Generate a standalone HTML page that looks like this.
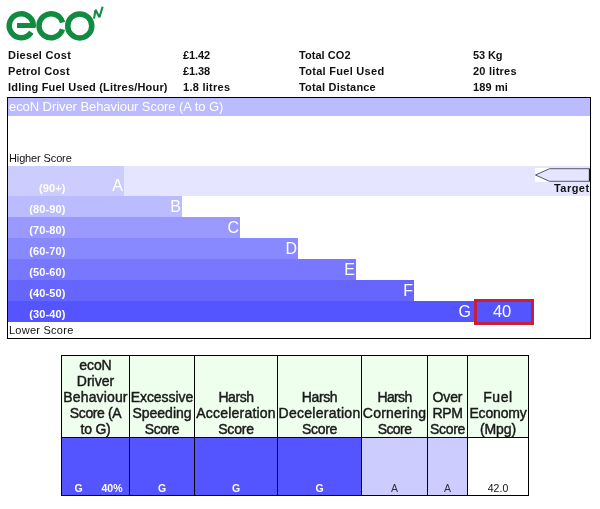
<!DOCTYPE html>
<html>
<head>
<meta charset="utf-8">
<title>ecoN Driver Behaviour Score</title>
<style>
html,body{margin:0;padding:0;background:#fff;}
body{width:600px;height:509px;position:relative;overflow:hidden;font-family:"Liberation Sans",sans-serif;color:#111;}
.abs{position:absolute;white-space:nowrap;}
.lbl{position:absolute;font-weight:bold;font-size:11px;line-height:16px;height:16px;white-space:nowrap;color:#111;}
#box{position:absolute;left:7px;top:97px;width:582px;height:240px;border:1px solid #000;background:#fff;}
#band{position:absolute;left:8px;top:98px;width:582px;height:18px;background:#bbbbff;}
#bandt{position:absolute;left:9px;top:98px;font-size:13px;letter-spacing:-0.07px;line-height:17px;color:#fff;white-space:nowrap;}
.bar{position:absolute;left:8px;height:21px;}
.rng{position:absolute;width:57.5px;left:8px;letter-spacing:0.1px;text-align:right;font-weight:bold;font-size:11px;color:#fff;line-height:14px;white-space:nowrap;}
.let{position:absolute;font-size:16px;line-height:18px;color:#fff;text-align:right;width:30px;white-space:nowrap;}
.sm{position:absolute;font-size:11px;line-height:14px;color:#111;white-space:nowrap;}
#tbl{position:absolute;left:61px;top:355px;width:468px;height:141px;background:#000;}
.hc{position:absolute;top:356px;height:81px;background:#eeffee;}
.hc div{position:absolute;left:-10px;right:-10px;bottom:0px;text-align:center;font-size:14px;line-height:16px;color:#1a1a1a;-webkit-text-stroke:0.45px #1a1a1a;}
.dc{position:absolute;top:438px;height:57px;}
.dc span{position:absolute;bottom:1px;font-size:10.5px;line-height:12px;text-align:center;white-space:nowrap;}
.g{background:#5555ff;color:#fff;font-weight:bold;}
.a{background:#ccccff;color:#333;}
.w{background:#fff;color:#111;}
</style>
</head>
<body>
<div id="wrap" style="position:absolute;left:0;top:0;width:600px;height:509px;will-change:transform;-webkit-font-smoothing:antialiased">

<!-- logo -->
<svg class="abs" style="left:0;top:0" width="120" height="50" viewBox="0 0 120 50">
  <g fill="none" stroke="#108b3f" stroke-width="5.5">
    <path d="M33.13 27.42 A12 12 0 1 0 31.31 32.29"/>
    <path d="M62.54 22.44 A12 12 0 1 0 62.48 29.26"/>
    <circle cx="79.75" cy="25.9" r="12"/>
  </g>
  <rect x="17" y="23" width="18" height="5" fill="#108b3f"/>
  <path d="M94.2 17.6 L95.5 9.8 L99.4 17.2 L102.3 7.8" fill="none" stroke="#108b3f" stroke-width="2.1" stroke-linejoin="bevel" stroke-linecap="square"/>
</svg>

<!-- info rows -->
<div class="lbl" style="left:8px;top:47px;letter-spacing:0.3px">Diesel Cost</div>
<div class="lbl" style="left:8px;top:63px;letter-spacing:0.3px">Petrol Cost</div>
<div class="lbl" style="left:8px;top:79px;letter-spacing:0.19px">Idling Fuel Used (Litres/Hour)</div>
<div class="lbl" style="left:183px;top:47px;letter-spacing:-0.12px">£1.42</div>
<div class="lbl" style="left:183px;top:63px;letter-spacing:-0.12px">£1.38</div>
<div class="lbl" style="left:183px;top:79px;letter-spacing:0.27px">1.8 litres</div>
<div class="lbl" style="left:299px;top:47px;letter-spacing:0.05px">Total CO2</div>
<div class="lbl" style="left:299px;top:63px;letter-spacing:0.29px">Total Fuel Used</div>
<div class="lbl" style="left:299px;top:79px;letter-spacing:0.18px">Total Distance</div>
<div class="lbl" style="left:473px;top:47px;letter-spacing:-0.1px">53 Kg</div>
<div class="lbl" style="left:473px;top:63px;letter-spacing:0.25px">20 litres</div>
<div class="lbl" style="left:473px;top:79px;letter-spacing:0.12px">189 mi</div>

<!-- chart box -->
<div id="box"></div>
<div id="band"></div>
<div id="bandt">ecoN Driver Behaviour Score (A to G)</div>
<div class="sm" style="left:9px;top:151px;letter-spacing:-0.13px">Higher Score</div>
<div class="sm" style="left:9px;top:323px;letter-spacing:0.25px">Lower Score</div>

<!-- target band -->
<div class="bar" style="top:166px;height:30px;width:582px;background:#e5e5ff"></div>
<!-- bars -->
<div class="bar" style="top:166px;height:30px;width:116px;background:#ccccff"></div>
<div class="bar" style="top:196px;width:174px;background:#bbbbff"></div>
<div class="bar" style="top:217px;width:232px;background:#9999ff"></div>
<div class="bar" style="top:238px;width:290px;background:#8888ff"></div>
<div class="bar" style="top:259px;width:348px;background:#7777ff"></div>
<div class="bar" style="top:280px;width:406px;background:#6666ff"></div>
<div class="bar" style="top:301px;width:466px;background:#5555ff"></div>

<div class="rng" style="top:181px">(90+)</div>
<div class="rng" style="top:202px">(80-90)</div>
<div class="rng" style="top:223px">(70-80)</div>
<div class="rng" style="top:244px">(60-70)</div>
<div class="rng" style="top:265px">(50-60)</div>
<div class="rng" style="top:286px">(40-50)</div>
<div class="rng" style="top:307px">(30-40)</div>

<div class="let" style="left:93px;top:177px">A</div>
<div class="let" style="left:151px;top:198px">B</div>
<div class="let" style="left:209px;top:219px">C</div>
<div class="let" style="left:267px;top:240px">D</div>
<div class="let" style="left:325px;top:261px">E</div>
<div class="let" style="left:383px;top:282px">F</div>
<div class="let" style="left:441px;top:303px">G</div>

<!-- score box -->
<div class="abs" style="left:474px;top:299px;width:54px;height:19.5px;border:3px solid #c81e3c;background:#5555ff;color:#fff;font-size:16.5px;line-height:18px;letter-spacing:-0.2px;text-align:center;text-indent:-4px">40</div>

<!-- target arrow -->
<svg class="abs" style="left:535px;top:168px" width="55" height="14" viewBox="0 0 55 14">
  <rect x="0" y="0" width="55" height="14" fill="#fff"/>
  <path d="M0.5 7 L14.5 0.7 H54.3 V13.3 H14.5 Z" fill="#e5e5ff" stroke="#55556e" stroke-width="1"/>
  <rect x="54" y="0.6" width="1" height="12.8" fill="#222"/>
</svg>
<div class="lbl" style="left:554px;top:180px;letter-spacing:0.45px">Target</div>

<!-- table -->
<div id="tbl"></div>
<div class="hc" style="left:62px;width:67px"><div><span style="letter-spacing:-0.1px">ecoN</span><br>Driver<br><span style="letter-spacing:0.14px">Behaviour</span><br><span style="letter-spacing:-0.39px">Score (A</span><br><span style="letter-spacing:-0.22px">to G)</span></div></div>
<div class="hc" style="left:130px;width:64px"><div><span style="letter-spacing:-0.04px">Excessive</span><br>Speeding<br><span style="letter-spacing:-0.42px">Score</span></div></div>
<div class="hc" style="left:195px;width:82px"><div><span style="letter-spacing:-0.42px">Harsh</span><br><span style="letter-spacing:0.22px">Acceleration</span><br><span style="letter-spacing:-0.2px">Score</span></div></div>
<div class="hc" style="left:278px;width:83px"><div><span style="letter-spacing:-0.35px">Harsh</span><br><span style="letter-spacing:0.28px">Deceleration</span><br><span style="letter-spacing:-0.27px">Score</span></div></div>
<div class="hc" style="left:362px;width:65px"><div><span style="letter-spacing:-0.65px">Harsh</span><br><span style="letter-spacing:0.21px">Cornering</span><br><span style="letter-spacing:-0.57px">Score</span></div></div>
<div class="hc" style="left:428px;width:39px"><div><span style="letter-spacing:-0.13px">Over</span><br><span style="letter-spacing:-0.35px">RPM</span><br><span style="letter-spacing:-0.35px">Score</span></div></div>
<div class="hc" style="left:468px;width:60px"><div><span style="letter-spacing:0.57px">Fuel</span><br><span style="letter-spacing:-0.17px">Economy</span><br><span style="letter-spacing:-0.12px">(Mpg)</span></div></div>

<div class="dc g" style="left:62px;width:67px"><span style="left:0;width:33px">G</span><span style="left:33px;width:34px">40%</span></div>
<div class="dc g" style="left:130px;width:64px"><span style="left:0;right:0">G</span></div>
<div class="dc g" style="left:195px;width:82px"><span style="left:0;right:0">G</span></div>
<div class="dc g" style="left:278px;width:83px"><span style="left:0;right:0">G</span></div>
<div class="dc a" style="left:362px;width:65px"><span style="left:0;right:0">A</span></div>
<div class="dc a" style="left:428px;width:39px"><span style="left:0;right:0">A</span></div>
<div class="dc w" style="left:468px;width:60px"><span style="left:0;right:0">42.0</span></div>

</div>
</body>
</html>
